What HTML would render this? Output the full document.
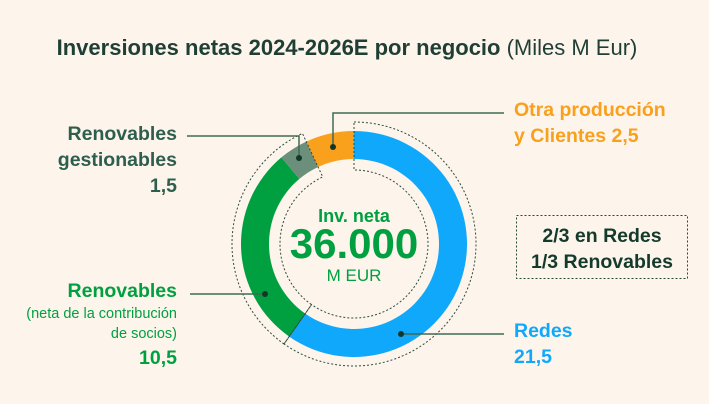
<!DOCTYPE html>
<html><head><meta charset="utf-8"><style>
body{margin:0;background:#fdf4ec;font-family:"Liberation Sans",sans-serif}
#c{position:relative;width:709px;height:404px;overflow:hidden;background:#fdf4ec}
.t{position:absolute;font-weight:bold;white-space:nowrap}
</style></head><body>
<div id="c">
<svg width="709" height="404" style="position:absolute;left:0;top:0">
<text x="347" y="55" text-anchor="middle" font-size="22" fill="#1f3f35" font-family="Liberation Sans"><tspan font-weight="bold">Inversiones netas 2024-2026E por negocio</tspan> (Miles M Eur)</text>
<g id="segs"></g>
<g id="outl" fill="none" stroke="#2d4d40" stroke-width="1" stroke-dasharray="2,2"></g>
<g stroke="#3f6b55" stroke-width="1.5" fill="none">
<polyline points="333,147 333,113 504,113"/>
<polyline points="187,136 299,136 299,158"/>
<polyline points="190,294 265,294"/>
<polyline points="401,334 504,334"/>
</g>
<g fill="#12372a"><circle cx="333" cy="147" r="3"/><circle cx="299" cy="158" r="3"/><circle cx="265" cy="294" r="3"/><circle cx="401" cy="334" r="3"/></g>
<text x="354" y="222" text-anchor="middle" font-size="18" font-weight="bold" fill="#00a040">Inv. neta</text>
<text x="354" y="258" text-anchor="middle" font-size="42" font-weight="bold" fill="#00a040">36.000</text>
<text x="354" y="281" text-anchor="middle" font-size="17" fill="#00a040">M EUR</text>
<rect x="516.5" y="215.5" width="171" height="63" fill="none" stroke="#1f4a3a" stroke-dasharray="2,2"/>
<text x="602" y="242" text-anchor="middle" font-size="19.5" font-weight="bold" fill="#143a2c">2/3 en Redes</text>
<text x="602" y="268" text-anchor="middle" font-size="19.5" font-weight="bold" fill="#143a2c">1/3 Renovables</text>
</svg>
<div class="t" style="right:532px;top:121px;text-align:right;font-size:19.5px;line-height:26px;color:#2e5e4e">Renovables<br>gestionables<br>1,5</div>
<div class="t" style="right:532px;top:278px;text-align:right;font-size:19.5px;line-height:26px;color:#00a040">Renovables<br><span style="font-weight:normal;font-size:14.5px;line-height:20px;display:inline-block">(neta de la contribución<br>de socios)</span><br>10,5</div>
<div class="t" style="left:514px;top:97px;font-size:19.5px;line-height:26px;color:#f9a01c">Otra producción<br>y Clientes 2,5</div>
<div class="t" style="left:514px;top:318px;font-size:19.5px;line-height:26px;color:#10a8fa">Redes<br>21,5</div>
</div>
<script>
const categories=["Redes","Renovables","Renovables gestionables","Otra producción y Clientes"];
const values=[21.5,10.5,1.5,2.5];
const colors=["#10a8fa","#00a040","#6b8f7a","#f9a01c"];
const cx=354,cy=244,R=113,r=85;
const total=values.reduce((a,b)=>a+b,0);
function pt(a,rad){return [cx+rad*Math.sin(a),cy-rad*Math.cos(a)];}
function arcPath(a0,a1,ro,ri){const l=(a1-a0)>Math.PI?1:0;const p1=pt(a0,ro),p2=pt(a1,ro),p3=pt(a1,ri),p4=pt(a0,ri);
return `M${p1}A${ro},${ro} 0 ${l} 1 ${p2}L${p3}A${ri},${ri} 0 ${l} 0 ${p4}Z`;}
const g=document.getElementById('segs');const o=document.getElementById('outl');
let a=0;const bounds=[0];
values.forEach((v,i)=>{const a1=a+v/total*2*Math.PI;
const p=document.createElementNS('http://www.w3.org/2000/svg','path');
p.setAttribute('d',arcPath(a,a1,R,r));p.setAttribute('fill',colors[i]);


g.appendChild(p);a=a1;bounds.push(a);});
[[bounds[0],bounds[1]],[bounds[1],bounds[3]]].forEach((b,i)=>{
const p=document.createElementNS('http://www.w3.org/2000/svg','path');
p.setAttribute('d',arcPath(b[0],b[1],122,74));


o.appendChild(p);});
</script>
</body></html>
